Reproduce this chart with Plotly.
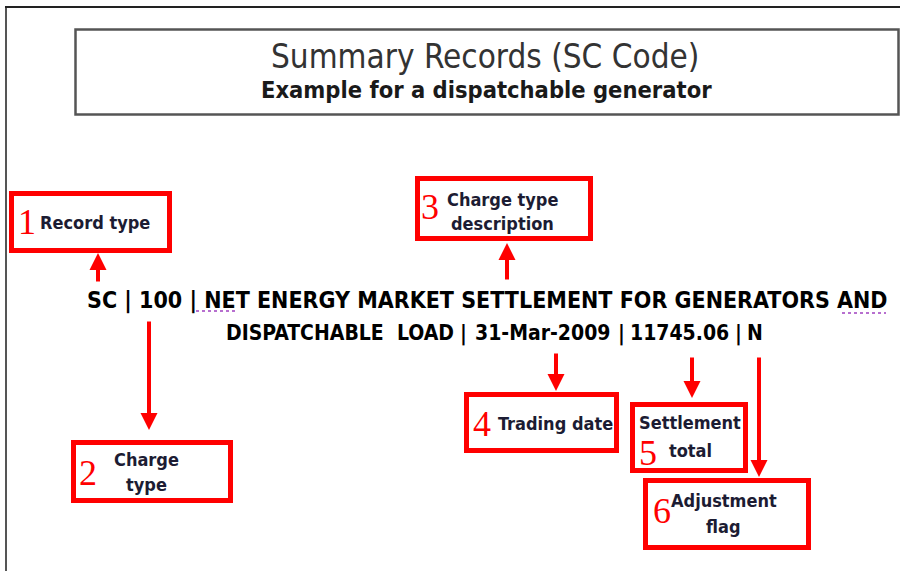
import plotly.graph_objects as go

# ---- content ----
title_text = "Summary Records (SC Code)"
subtitle_text = "Example for a dispatchable generator"
record_line1 = "SC | 100 | NET ENERGY MARKET SETTLEMENT FOR GENERATORS AND"
record_line2_tokens = ["DISPATCHABLE\u00a0\u00a0LOAD", "|", "31-Mar-2009", "|", "11745.06", "|", "N"]
field_numbers = ["1", "2", "3", "4", "5", "6"]
field_label_lines = [["Record type"], ["Charge", "type"], ["Charge type", "description"],
                     ["Trading date"], ["Settlement", "total"], ["Adjustment", "flag"]]

# ---- layout (pixel coordinates, y downwards) ----
W, H = 900, 571
line2_token_x = [340, 463, 542, 621, 679, 738, 755]
box_rects = [(11.5, 193.5, 169.5, 250.5), (73.5, 442.5, 230.5, 500.5),
             (417.5, 178.5, 590.5, 238.5), (466.5, 394.5, 616.5, 450.5),
             (632.5, 404.5, 745.5, 470.5), (645.5, 480.5, 808.5, 547.5)]
number_pos = [(27, 222), (88, 473), (430, 207), (482, 424), (648, 453), (662, 511)]
label_line_pos = [[(94.5, 222)], [(146, 459), (146, 484)], [(502, 199), (502, 223)],
                  [(555, 423)], [(690, 422), (690, 450)], [(724, 500), (723, 526)]]
arrows = [((98, 283), (98, 253)), ((149, 320), (149, 430)), ((507, 281), (507, 243)),
          ((556, 352), (556, 391)), ((692, 356), (692, 398)), ((759, 356), (759, 477))]

NARROW = "DejaVu Sans Condensed, DejaVu Sans, sans-serif"
SERIF = "Liberation Serif, Times New Roman, serif"
RED = "#ff0000"
NAVY = "#1c1c33"

fig = go.Figure()
shapes = []
ann = []

# outer frame lines
shapes.append(dict(type="line", x0=6, y0=7, x1=6, y1=H, line=dict(color="#555555", width=2)))
shapes.append(dict(type="line", x0=5, y0=7, x1=W, y1=7, line=dict(color="#222222", width=2)))
# title box
shapes.append(dict(type="rect", x0=75.5, y0=29.5, x1=898.5, y1=114.5,
                   line=dict(color="#555555", width=2.5)))

ann.append(dict(x=485, y=56, text=title_text, showarrow=False,
                font=dict(family=NARROW, size=33, color="#333333")))
ann.append(dict(x=486, y=90, text="<b>" + subtitle_text + "</b>", showarrow=False,
                font=dict(family=NARROW, size=23.5, color="#1a1a1a")))

# record lines
ann.append(dict(x=487, y=300, text="<b>" + record_line1 + "</b>", showarrow=False,
                font=dict(family=NARROW, size=23, color="#000000")))
for tok, tx in zip(record_line2_tokens, line2_token_x):
    ann.append(dict(x=tx, y=333, text="<b>" + tok + "</b>", showarrow=False,
                    font=dict(family=NARROW, size=21, color="#000000")))
# spell-check squiggles
shapes.append(dict(type="line", x0=196, y0=311, x1=235, y1=311,
                   line=dict(color="#a040c0", width=1.5, dash="dot")))
shapes.append(dict(type="line", x0=842, y0=313, x1=886, y1=313,
                   line=dict(color="#a040c0", width=1.5, dash="dot")))

# red boxes, numbers, labels
for (x0, y0, x1, y1) in box_rects:
    shapes.append(dict(type="rect", x0=x0, y0=y0, x1=x1, y1=y1,
                       line=dict(color=RED, width=5)))
for num, (nx, ny) in zip(field_numbers, number_pos):
    ann.append(dict(x=nx, y=ny, text=num, showarrow=False,
                    font=dict(family=SERIF, size=36, color=RED)))
for lines, poss in zip(field_label_lines, label_line_pos):
    for txt, (lx, ly) in zip(lines, poss):
        ann.append(dict(x=lx, y=ly, text="<b>" + txt + "</b>", showarrow=False,
                        font=dict(family=NARROW, size=18, color=NAVY)))

# arrows
for (tail, tip) in arrows:
    ann.append(dict(x=tip[0], y=tip[1], ax=tail[0], ay=tail[1], xref="x", yref="y",
                    axref="x", ayref="y", text="", showarrow=True,
                    arrowhead=2, arrowsize=0.85, arrowwidth=4, arrowcolor=RED,
                    standoff=0, startstandoff=0))

fig.update_layout(
    width=W, height=H, margin=dict(l=0, r=0, t=0, b=0),
    paper_bgcolor="white", plot_bgcolor="white",
    xaxis=dict(range=[0, W], visible=False, fixedrange=True),
    yaxis=dict(range=[H, 0], visible=False, fixedrange=True),
    shapes=shapes, annotations=ann, showlegend=False,
)
fig.write_html("out.html", config={"displayModeBar": False},
               post_script="document.body.style.margin='0';")
